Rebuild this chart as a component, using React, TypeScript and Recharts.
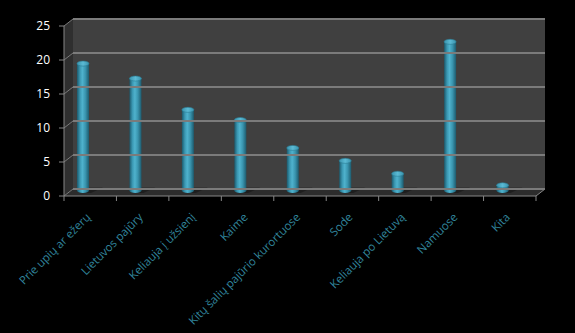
import React from 'react';
import { BarChart, Bar, XAxis, YAxis, ReferenceArea, ReferenceLine } from 'recharts';

const categories = [
  'Prie upių ar ežerų',
  'Lietuvos pajūry',
  'Keliauja į užsienį',
  'Kaime',
  'Kitų šalių pajūrio kurortuose',
  'Sode',
  'Keliauja po Lietuvą',
  'Namuose',
  'Kita',
];
const values = [19.4, 17.2, 12.6, 11.1, 7.0, 5.1, 3.2, 22.6, 1.5];
const yTicks = [0, 5, 10, 15, 20, 25];

const data = categories.map((name, i) => ({ name, value: values[i] }));

const DX = 9;
const DY = -7;
const BAR_DX = -7;
const BAR_DY = -3;
const FONT = '"Open Sans", "DejaVu Sans", sans-serif';

const Walls = (props: any) => {
  const { x, y, width, height } = props;
  const b = y + height;
  return (
    <g>
      <rect x={x + DX} y={y + DY} width={width} height={height} fill="#404040" />
      <polygon
        points={`${x},${y} ${x + DX},${y + DY} ${x + DX},${b + DY} ${x},${b}`}
        fill="#2f2f2f"
      />
      <polygon
        points={`${x},${b} ${x + DX},${b + DY} ${x + width + DX},${b + DY} ${x + width},${b}`}
        fill="#2c2c2c"
      />
      <line x1={x + width} y1={b} x2={x + width + DX} y2={b + DY} stroke="#868686" strokeWidth={1} />
    </g>
  );
};

const GridLine = (props: any) => {
  const { x1, y1, x2, y2 } = props;
  return (
    <g>
      <line x1={x1} y1={y1} x2={x1 + DX} y2={y1 + DY} stroke="#7a7a7a" strokeWidth={1} />
      <line x1={x1 + DX} y1={y1 + DY} x2={x2 + DX} y2={y2 + DY} stroke="#7b7b7b" strokeWidth={2} />
    </g>
  );
};

const Cylinder = (props: any) => {
  const { x, y, width, height, index } = props;
  if (height == null || width == null) return null;
  const rx = width / 2;
  const ry = 2.5;
  const cx = x + width / 2 + BAR_DX;
  const top = y + BAR_DY + ry;
  const bottom = y + height + BAR_DY - ry;
  const left = cx - rx;
  const id = `cyl-${index}`;
  const idTop = `cyltop-${index}`;
  return (
    <g>
      <defs>
        <linearGradient id={id} x1="0" y1="0" x2="1" y2="0">
          <stop offset="0%" stopColor="#1c5a6d" />
          <stop offset="25%" stopColor="#3b98b3" />
          <stop offset="45%" stopColor="#4fb2cd" />
          <stop offset="70%" stopColor="#3a95af" />
          <stop offset="100%" stopColor="#1d5b6e" />
        </linearGradient>
        <linearGradient id={idTop} x1="0" y1="0" x2="1" y2="0">
          <stop offset="0%" stopColor="#3a93ad" />
          <stop offset="50%" stopColor="#5bbad4" />
          <stop offset="100%" stopColor="#3a93ad" />
        </linearGradient>
      </defs>
      <polygon
        points={`${left + 2},${bottom + ry} ${left + width + 2},${bottom + ry} ${left + width + 14},${bottom - 3} ${left + 10},${bottom - 3}`}
        fill="rgba(0,0,0,0.3)"
      />
      <ellipse cx={cx} cy={bottom} rx={rx} ry={ry} fill={`url(#${id})`} />
      <rect x={left} y={top} width={width} height={Math.max(0, bottom - top)} fill={`url(#${id})`} />
      <ellipse cx={cx} cy={top} rx={rx} ry={ry} fill={`url(#${idTop})`} stroke="#2c7d95" strokeWidth={0.6} />
    </g>
  );
};

const CatTick = (props: any) => {
  const { x, y, payload, index, visibleTicksCount } = props;
  const half = payload && payload.offset ? payload.offset : 0;
  const ax = x + 1;
  const ay = y + 22;
  const isLast = index === (visibleTicksCount ?? categories.length) - 1;
  return (
    <g>
      <line x1={x - half} y1={y} x2={x - half} y2={y + 5} stroke="#868686" />
      {isLast && <line x1={x + half} y1={y} x2={x + half} y2={y + 5} stroke="#868686" />}
      <text
        x={ax}
        y={ay}
        transform={`rotate(-45, ${ax}, ${ay})`}
        textAnchor="end"
        fill="#31859c"
        fontSize={11.5}
        fontFamily={FONT}
      >
        {payload.value}
      </text>
    </g>
  );
};

export default function App() {
  return (
    <div style={{ position: 'absolute', left: 0, top: 0, width: 575, height: 333, background: '#000' }}>
      <BarChart
        width={575}
        height={333}
        data={data}
        margin={{ top: 26, right: 39, left: 24, bottom: 0 }}
        barSize={12}
      >
        <XAxis
          dataKey="name"
          interval={0}
          height={137}
          axisLine={{ stroke: '#868686', strokeWidth: 1 }}
          tickLine={false}
          tickSize={0}
          tickMargin={0}
          tick={<CatTick />}
        />
        <YAxis
          domain={[0, 25]}
          ticks={yTicks}
          width={40}
          axisLine={{ stroke: '#868686', strokeWidth: 1 }}
          tickLine={{ stroke: '#868686' }}
          tickSize={5}
          tickMargin={9}
          tick={{ fill: '#ffffff', fontSize: 12, fontFamily: FONT }}
        />
        <ReferenceArea y1={0} y2={25} shape={<Walls />} fillOpacity={1} />
        {yTicks.map((t) => (
          <ReferenceLine key={t} y={t} shape={<GridLine />} />
        ))}
        <Bar dataKey="value" shape={<Cylinder />} isAnimationActive={false} />
      </BarChart>
    </div>
  );
}
